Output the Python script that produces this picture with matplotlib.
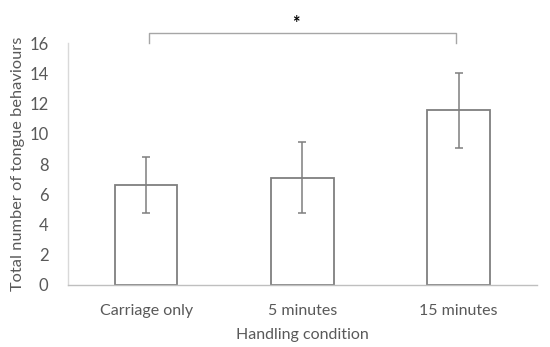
import matplotlib.pyplot as plt

conditions = ["Carriage only", "5 minutes", "15 minutes"]
means = [6.6, 7.1, 11.55]
errors = [1.85, 2.35, 2.47]
y_ticks = [0, 2, 4, 6, 8, 10, 12, 14, 16]

plt.rcParams["font.family"] = ["Lato", "DejaVu Sans"]
text_col = "#595959"

fig = plt.figure(figsize=(5.5, 3.47), dpi=100)
ax = fig.add_axes([0.1236, 0.1787, 0.8524, 0.6973])

x = list(range(len(conditions)))
ax.bar(x, means, width=0.4, color="white", edgecolor="#7f7f7f", linewidth=1.3, zorder=2)
ax.errorbar(x, means, yerr=errors, fmt="none", ecolor="#7f7f7f", elinewidth=1.1,
            capsize=3, capthick=1.1, zorder=3)

ax.set_xlim(-0.5, 2.5)
ax.set_ylim(0, 16)
ax.set_yticks(y_ticks)
ax.set_xticks(x)
ax.set_xticklabels(conditions)
ax.tick_params(axis="x", length=0, labelsize=11.5, colors=text_col, pad=14)
ax.tick_params(axis="y", length=0, labelsize=12, colors=text_col, pad=14)

for s in ["top", "right"]:
    ax.spines[s].set_visible(False)
ax.spines["left"].set_color("#d9d9d9")
ax.spines["bottom"].set_color("#bfbfbf")
ax.spines["left"].set_linewidth(1.0)
ax.spines["bottom"].set_linewidth(1.0)

ax.set_xlabel("Handling condition", fontsize=11.5, color=text_col, labelpad=7)
ax.set_ylabel("Total number of tongue behaviours", fontsize=11.8, color=text_col, labelpad=3)

# significance bracket
bx0, bx1 = 0.02, 1.98
ax.plot([bx0, bx0, bx1, bx1], [16.0, 16.66, 16.66, 16.0], color="#a6a6a6",
        linewidth=1.0, clip_on=False)
ax.text(0.96, 17.3, "*", ha="center", va="center", fontsize=13, fontweight="bold",
        color="black", clip_on=False)

fig.savefig("out.png", dpi=100)
